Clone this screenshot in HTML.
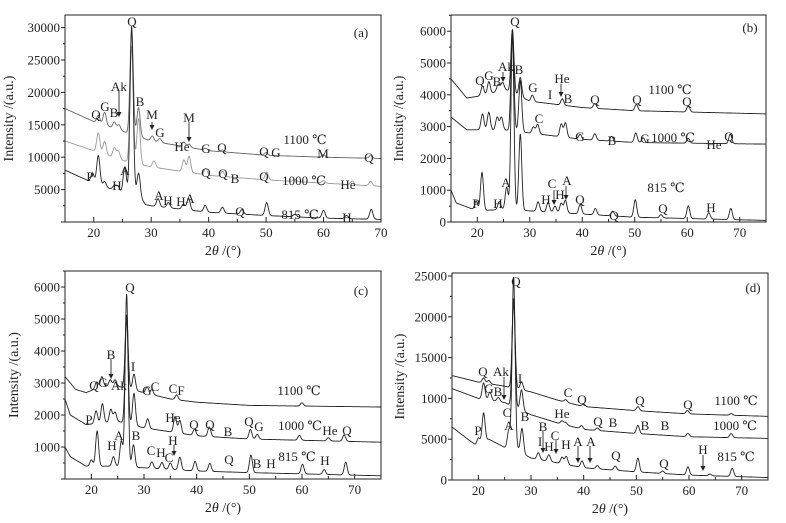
<!DOCTYPE html>
<html><head><meta charset="utf-8"><style>
html,body{margin:0;padding:0;background:#fff;}
svg{display:block;font-family:"Liberation Serif","DejaVu Serif",serif;}
</style></head><body>
<svg id="fig" width="786" height="523" viewBox="0 0 786 523" xmlns="http://www.w3.org/2000/svg"></svg>
<script>
// ---------- DATA (2θ positions, intensities in a.u.) ----------
// Panel a
const aBase1100 = [[15,17500],[20,15500],[25,14000],[30,12500],[40,11000],[50,10300],[60,10000],[70,9800]];
const aPeak1100 = [[20.8,1200],[21.9,2000],[23.6,1000],[24.4,800],[26.6,16000],[27.8,4500],[30.2,800],[31.5,600],[35.7,700],[36.6,500],[39.5,300],[42.4,300],[50,400],[60,400],[68.2,400]];
const aBase1000 = [[15,12500],[20,11000],[25,9500],[30,8500],[40,7200],[50,6500],[60,6000],[70,5500]];
const aPeak1000 = [[20.8,3000],[21.9,2000],[23.6,1500],[24.3,1200],[26.6,18000],[27.8,7000],[30.5,1000],[35.7,1800],[36.6,2500],[39.5,1000],[42.4,800],[50.1,1200],[55,400],[60,400],[65,600],[68.2,700]];
const aBase815 = [[15,8000],[20,6000],[25,4500],[28,4000],[29,2700],[30,2500],[40,1500],[50,1000],[60,600],[70,400]];
const aPeak815 = [[19.8,1500],[20.8,4500],[21.9,800],[23.6,700],[24.2,800],[25.4,4000],[26.6,26000],[27.8,3500],[31.2,1200],[33,800],[35.6,800],[36.5,1800],[39.4,1000],[42.4,900],[45.8,700],[50.1,2000],[55,400],[60,1200],[64,500],[68.3,1500]];
// Panel b
const bBase1100 = [[15,4500],[18,3900],[22,4000],[25,4200],[30,3800],[40,3600],[50,3500],[75,3400]];
const bPeak1100 = [[21,300],[22.2,400],[24,200],[24.8,200],[26.7,2000],[28.2,600],[30.5,200],[36.2,200],[42.4,150],[50.3,200],[60.2,200]];
const bBase1000 = [[15,3300],[18,2900],[25,2900],[30,2800],[40,2600],[50,2500],[75,2450]];
const bPeak1000 = [[21,500],[22.2,550],[23.8,400],[24.6,400],[26.7,3100],[28.2,1600],[30.7,200],[31.5,300],[36,400],[36.8,450],[39.6,150],[42.4,200],[45.6,150],[50.2,300],[51.6,150],[60.2,150],[68.2,300]];
const bBase815 = [[15,1000],[16,600],[20,350],[25,400],[30,350],[40,250],[50,150],[75,50]];
const bPeak815 = [[19.8,300],[20.9,1200],[24.2,250],[25.6,700],[26.7,5500],[28.2,2400],[31.6,300],[33.5,300],[34.8,200],[36,300],[36.8,400],[39.6,300],[42.5,200],[45.8,150],[50.1,550],[55,100],[60.2,400],[64.1,200],[68.3,350]];
// Panel c
const cBase1100 = [[15,3200],[17,2800],[19,2700],[22,2900],[25,2900],[30,2700],[35,2500],[40,2400],[50,2300],[75,2250]];
const cPeak1100 = [[21,200],[22,300],[23.6,200],[24.5,200],[26.7,2300],[28.1,500],[30.6,200],[31.5,150],[36.2,150],[60,100]];
const cBase1000 = [[15,2500],[16,2000],[19,1700],[25,1800],[30,1600],[40,1350],[50,1250],[75,1150]];
const cPeak1000 = [[20.9,400],[22.1,600],[23.7,400],[24.5,300],[26.7,3300],[28.1,1000],[30.7,300],[35.9,500],[36.8,400],[39.6,200],[42.4,300],[50.2,300],[51.5,150],[59.5,150],[65,100],[68,200]];
const cBase815 = [[15,1000],[16,700],[19,400],[25,400],[30,350],[40,250],[50,200],[75,100]];
const cPeak815 = [[20,200],[21.1,1100],[24.2,300],[25.7,800],[26.7,5400],[28,700],[31.5,200],[33.4,200],[35,200],[36.8,400],[39.7,300],[42.5,250],[50.3,550],[60.1,300],[64.2,150],[68.3,400]];
// Panel d
const dBase1100 = [[15,12800],[20,12000],[25,11500],[30,10800],[35,9800],[40,9000],[50,8500],[60,8100],[75,7800]];
const dPeak1100 = [[21,600],[22,400],[26.7,11000],[28.2,1000],[36.6,300],[40,300],[50.3,500],[59.7,400],[68,200]];
const dBase1000 = [[15,11200],[20,10000],[25,9500],[30,8000],[35,7000],[40,6200],[50,5700],[60,5300],[75,5100]];
const dPeak1000 = [[21,2000],[22.2,1000],[23.8,500],[26.7,13000],[28.2,2500],[35.9,400],[36.6,300],[39.6,400],[42.6,300],[50.3,1000],[59.8,400],[68,500]];
const dBase815 = [[15,6500],[18,5000],[19.5,4300],[22,5000],[25,4000],[27.5,3800],[28.5,3200],[30,2700],[40,1500],[50,1000],[60,600],[75,300]];
const dPeak815 = [[20,700],[21,3500],[25.8,2200],[26.7,21000],[28.3,3000],[31.4,800],[33.4,800],[35.9,800],[36.7,1000],[39.7,800],[42.6,400],[46,500],[50.3,1700],[55,300],[59.8,1000],[64,200],[68.2,1000]];

const aYTicks = [5000,10000,15000,20000,25000,30000];
const bYTicks = [0,1000,2000,3000,4000,5000,6000];
const cYTicks = [1000,2000,3000,4000,5000,6000];
const dYTicks = [0,5000,10000,15000,20000,25000];
const dYLabels = ["0","5000","1000","15000","20000","25000"];
const aXTicks = [20,30,40,50,60,70];
const bXTicks = [20,30,40,50,60,70];

// ---------- DRAWING ----------
const NS="http://www.w3.org/2000/svg";
const svg=document.getElementById('fig');
function mk(tag,attrs,parent){const e=document.createElementNS(NS,tag);for(const k in attrs)e.setAttribute(k,attrs[k]);(parent||svg).appendChild(e);return e;}
function interp(base,x){for(let i=0;i<base.length-1;i++){if(x>=base[i][0]&&x<=base[i+1][0]){const t=(x-base[i][0])/(base[i+1][0]-base[i][0]);return base[i][1]+t*(base[i+1][1]-base[i][1]);}}return x<base[0][0]?base[0][1]:base[base.length-1][1];}
function intensity(base,peaks,x){let y=interp(base,x);for(const p of peaks){const w=0.28;y+=p[1]*Math.exp(-((x-p[0])*(x-p[0]))/(2*w*w));}return y;}

function panel(P){
  const g=mk('g',{});
  
  
  const sx=v=>P.x0+(v-P.xmin)/(P.xmax-P.xmin)*(P.x1-P.x0);
  const sy=v=>P.y1-(v-P.ymin)/(P.ymax-P.ymin)*(P.y1-P.y0);
  P.series.forEach(s=>{
    let d='';
    for(let x=P.xmin;x<=P.xmax+1e-9;x+=0.05){d+=(d?'L':'M')+sx(x).toFixed(1)+','+Math.max(P.y0,sy(intensity(s.base,s.peaks,x))).toFixed(1);}
    const p=mk('path',{d:d,fill:'none',stroke:s.color,'stroke-width':'0.9'},g);
    
    
  });
  const fr=mk('rect',{x:P.x0,y:P.y0,width:P.x1-P.x0,height:P.y1-P.y0,fill:'none',stroke:'#222','stroke-width':'1'},g);
  
  
  for(let v=P.xmin;v<=P.xmax;v+=5){const X=sx(v);const major=v%10===0;mk('line',{x1:X,x2:X,y1:P.y1,y2:P.y1-(major?5:3),stroke:'#222'},g);}
  P.xticks.forEach(v=>{const t=mk('text',{x:sx(v),y:P.y1+15,'text-anchor':'middle','font-size':'13',fill:'#222'},g);t.textContent=v;
    
    });
  const step=P.yticks[1]-P.yticks[0];
  for(let v=P.yticks[0]-step;v<=P.ymax;v+=step/2){if(v<P.ymin)continue;const Y=sy(v);const major=Math.abs(((v-P.yticks[0])/step)%1)<1e-6;mk('line',{x1:P.x0,x2:P.x0-(major?4:2),y1:Y,y2:Y,stroke:'#222'},g);}
  P.yticks.forEach((v,i)=>{const t=mk('text',{x:P.x0-5,y:sy(v)+4.5,'text-anchor':'end','font-size':'13',fill:'#222'},g);t.textContent=P.ylabels?P.ylabels[i]:v;
    
    });
  const yt=mk('text',{x:0,y:0,transform:`translate(${P.ytx},${(P.y0+P.y1)/2}) rotate(-90)`,'text-anchor':'middle','font-size':'14',fill:'#222'},g);
  yt.textContent='Intensity /(a.u.)';
  
  
  const xt=mk('text',{x:(P.x0+P.x1)/2,y:P.y1+33,'text-anchor':'middle','font-size':'14',fill:'#222'},g);
  xt.innerHTML='2<tspan font-style="italic">θ</tspan> /(°)';
  
  
  P.labels.forEach(l=>{const t=mk('text',{x:l[0],y:l[1]+5,'text-anchor':'middle','font-size':'13',fill:'#222'},g);t.textContent=l[2];
    
    });
  P.arrows.forEach(a=>{mk('line',{x1:a[0],x2:a[0],y1:a[1],y2:a[2]-3,stroke:'#222','stroke-width':'0.9'},g);
    const h=mk('path',{d:`M${a[0]-2.5},${a[2]-5}L${a[0]+2.5},${a[2]-5}L${a[0]},${a[2]}Z`,fill:'#222'},g);
    
    });
}

panel({id:'a',x0:65,x1:381,y0:15,y1:222,xmin:15,xmax:70,ymin:0,ymax:31944,xticks:aXTicks,yticks:aYTicks,ytx:13,
 series:[{name:'1100',base:aBase1100,peaks:aPeak1100,color:'#666'},{name:'1000',base:aBase1000,peaks:aPeak1000,color:'#999'},{name:'815',base:aBase815,peaks:aPeak815,color:'#222'}],
 labels:[[132,21,'Q'],[361,32,'(a)'],[96,114,'Q'],[105,106,'G'],[114,112,'B'],[119,86,'Ak'],[140,101,'B'],[152,114,'M'],[160,132,'G'],[182,146,'He'],[189,117,'M'],[206,148,'G'],[222,147,'Q'],[264,151,'Q'],[276,152,'G'],[323,153,'M'],[369,157,'Q'],[305,139,'1100 ℃'],[206,172,'Q'],[223,173,'Q'],[235,178,'B'],[264,176,'Q'],[304,180,'1000 ℃'],[348,184,'He'],[90,176,'P'],[117,185,'H'],[125,170,'A'],[159,195,'A'],[168,200,'H'],[181,201,'H'],[190,198,'A'],[240,211,'Q'],[300,214,'815 ℃'],[347,217,'H']],
 arrows:[[119,91,117],[152,122,130],[189,122,142]]});

panel({id:'b',x0:451,x1:766,y0:15,y1:222,xmin:15,xmax:75,ymin:0,ymax:6510,xticks:bXTicks,yticks:bYTicks,ytx:403,
 series:[{name:'1100',base:bBase1100,peaks:bPeak1100,color:'#222'},{name:'1000',base:bBase1000,peaks:bPeak1000,color:'#222'},{name:'815',base:bBase815,peaks:bPeak815,color:'#222'}],
 labels:[[515,21,'Q'],[750,27,'(b)'],[480,80,'Q'],[489,75,'G'],[497,81,'B'],[506,66,'Ak'],[519,69,'B'],[533,87,'G'],[550,94,'I'],[562,78,'He'],[568,98,'B'],[595,99,'Q'],[637,99,'Q'],[687,101,'Q'],[670,89,'1100 ℃'],[539,118,'C'],[580,136,'G'],[612,140,'B'],[645,138,'G'],[673,137,'1000 ℃'],[714,144,'He'],[729,136,'Q'],[476,203,'P'],[498,203,'H'],[506,182,'A'],[552,183,'C'],[546,199,'H'],[560,194,'H'],[567,180,'A'],[580,199,'Q'],[614,215,'Q'],[663,208,'Q'],[666,187,'815 ℃'],[711,207,'H']],
 arrows:[[503,72,82],[561,84,97],[554,190,205],[566,186,200]]});

panel({id:'c',x0:65,x1:381,y0:271,y1:479,xmin:15,xmax:75,ymin:0,ymax:6500,xticks:bXTicks,yticks:cYTicks,ytx:18,
 series:[{name:'1100',base:cBase1100,peaks:cPeak1100,color:'#222'},{name:'1000',base:cBase1000,peaks:cPeak1000,color:'#222'},{name:'815',base:cBase815,peaks:cPeak815,color:'#222'}],
 labels:[[130,287,'Q'],[361,290,'(c)'],[94,385,'Q'],[103,382,'G'],[111,354,'B'],[119,385,'Ak'],[133,366,'I'],[147,390,'G'],[155,386,'C'],[173,388,'C'],[181,390,'F'],[299,390,'1100 ℃'],[89,419,'P'],[173,417,'He'],[194,424,'Q'],[210,424,'Q'],[228,431,'B'],[249,421,'Q'],[259,426,'G'],[300,425,'1000 ℃'],[330,430,'He'],[347,430,'Q'],[112,445,'H'],[119,435,'A'],[136,435,'B'],[173,440,'H'],[151,450,'C'],[161,452,'H'],[169,457,'C'],[229,459,'Q'],[297,456,'815 ℃'],[257,463,'B'],[271,463,'H'],[325,460,'H']],
 arrows:[[111,359,379],[174,445,456]]});

panel({id:'d',x0:452,x1:768,y0:273,y1:480,xmin:15,xmax:75,ymin:0,ymax:25370,xticks:bXTicks,yticks:dYTicks,ylabels:dYLabels,ytx:404,
 series:[{name:'1100',base:dBase1100,peaks:dPeak1100,color:'#222'},{name:'1000',base:dBase1000,peaks:dPeak1000,color:'#222'},{name:'815',base:dBase815,peaks:dPeak815,color:'#222'}],
 labels:[[516,281,'Q'],[753,287,'(d)'],[483,371,'Q'],[501,371,'Ak'],[520,378,'I'],[489,388,'G'],[498,391,'B'],[507,412,'C'],[525,416,'B'],[509,425,'A'],[568,392,'C'],[582,399,'Q'],[640,400,'Q'],[688,404,'Q'],[736,400,'1100 ℃'],[562,413,'He'],[598,421,'Q'],[613,422,'B'],[645,425,'B'],[665,425,'B'],[735,425,'1000 ℃'],[478,430,'P'],[543,426,'B'],[540,441,'I'],[549,446,'H'],[555,435,'C'],[566,444,'H'],[578,441,'A'],[591,441,'A'],[616,455,'Q'],[664,463,'Q'],[736,456,'815 ℃'],[703,449,'H']],
 arrows:[[504,377,400],[543,431,453],[556,440,454],[578,446,463],[590,446,463],[703,455,471]]});
</script>
</body></html>
